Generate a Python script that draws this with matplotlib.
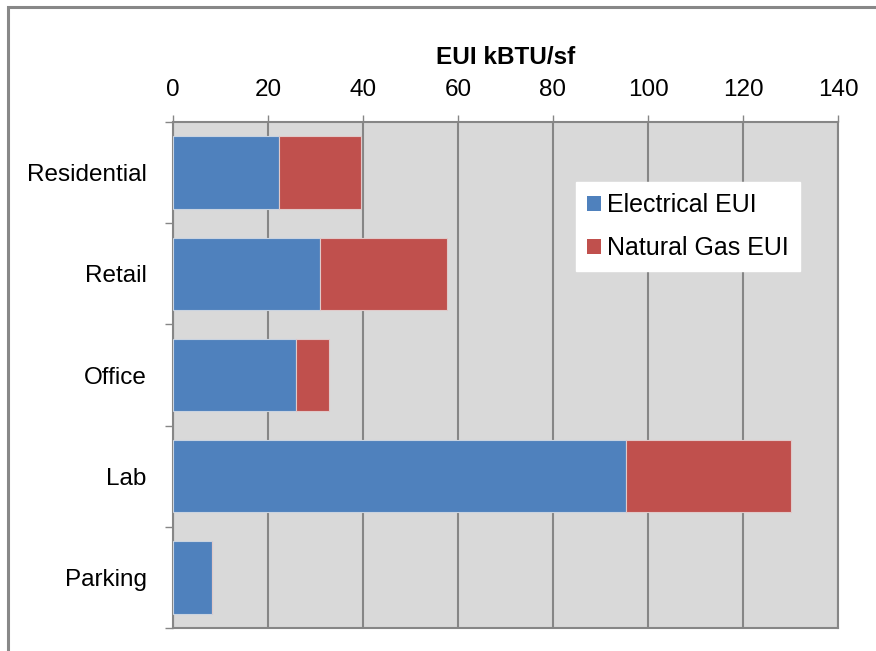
import matplotlib
matplotlib.use("Agg")
import matplotlib.pyplot as plt
from matplotlib.patches import Patch, Rectangle

plt.rcParams['font.family'] = ['Liberation Sans', 'DejaVu Sans']

categories = ["Residential", "Retail", "Office", "Lab", "Parking"]
electrical = [22.4, 30.9, 25.9, 95.4, 8.3]
natural_gas = [17.2, 26.8, 7.0, 34.6, 0.0]
xticks = [0, 20, 40, 60, 80, 100, 120, 140]

blue = "#4F81BD"
red = "#C0504D"

fig = plt.figure(figsize=(8.76, 6.51), dpi=100)
ax = fig.add_axes([173/876, 23/651, 665/876, 506/651])
ax.set_facecolor("#D9D9D9")

y = list(range(len(categories)))
ax.barh(y, electrical, height=0.714, color=blue, edgecolor="#C9D3E0", linewidth=0.8, zorder=3)
ax.barh(y, natural_gas, left=electrical, height=0.714, color=red, edgecolor="#E0C9C9", linewidth=0.8, zorder=3)

ax.set_xlim(0, 140)
ax.set_ylim(len(categories) - 0.5, -0.5)
ax.xaxis.tick_top()
ax.set_xticks(xticks)
ax.set_xticklabels([str(v) for v in xticks], fontsize=17.5)
ax.tick_params(axis='x', which='major', length=5, width=1, color="#868686", pad=10)
ax.grid(axis='x', color="#868686", linewidth=1.5, zorder=1)

ax.set_yticks(y)
ax.set_yticklabels(categories, fontsize=17.5)
ax.tick_params(axis='y', which='major', length=0, pad=19)
ax.set_yticks([i - 0.5 for i in range(len(categories) + 1)], minor=True)
ax.tick_params(axis='y', which='minor', length=6, width=1, color="#868686")

for s in ax.spines.values():
    s.set_color("#868686")
    s.set_linewidth(1.5)

ax.set_title("EUI kBTU/sf", fontsize=17.5, fontweight='bold', pad=42)

handles = [Patch(facecolor=blue, edgecolor='none'), Patch(facecolor=red, edgecolor='none')]
leg = ax.legend(handles, ["Electrical EUI", "Natural Gas EUI"], loc='upper left',
                bbox_to_anchor=((576-173)/665, (628-182)/506), fontsize=18,
                handlelength=0.55, handleheight=0.55, handletextpad=0.25,
                labelspacing=0.75, borderpad=0.45, borderaxespad=0,
                frameon=True, fancybox=False)
leg.get_frame().set_facecolor("white")
leg.get_frame().set_edgecolor("white")
leg.get_frame().set_alpha(1)
leg.set_zorder(5)

fig.patches.append(Rectangle((8/876, -0.1), 1.2, (651-7)/651 + 0.1, transform=fig.transFigure,
                             fill=False, edgecolor="#888888", linewidth=2.2))

fig.savefig("out.png", dpi=100)
